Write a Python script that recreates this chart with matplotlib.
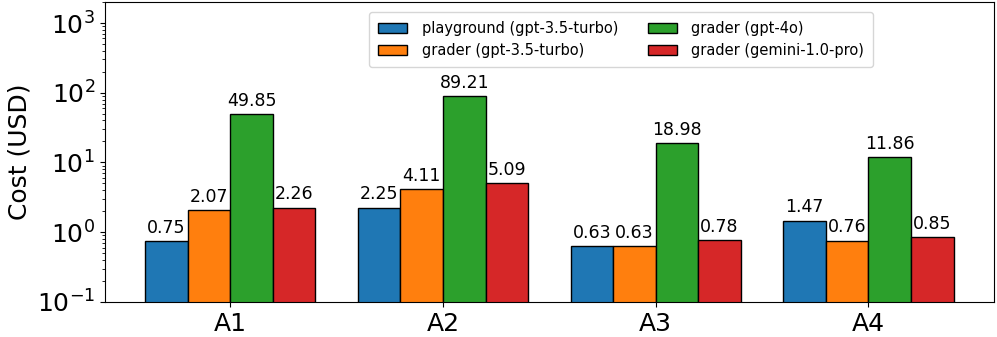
import matplotlib
matplotlib.use("Agg")
import matplotlib.pyplot as plt
import numpy as np

# data
assignments = ['A1', 'A2', 'A3', 'A4']
series_names = ['playground (gpt-3.5-turbo)', 'grader (gpt-3.5-turbo)',
                'grader (gpt-4o)', 'grader (gemini-1.0-pro)']
playground_35 = [0.75, 2.25, 0.63, 1.47]
grader_35 = [2.07, 4.11, 0.63, 0.76]
grader_4o = [49.85, 89.21, 18.98, 11.86]
grader_gemini = [2.26, 5.09, 0.78, 0.85]
all_series = [playground_35, grader_35, grader_4o, grader_gemini]
colors = ['#1f77b4', '#ff7f0e', '#2ca02c', '#d62728']

fig, ax = plt.subplots(figsize=(9.97, 3.37), dpi=100)
fig.subplots_adjust(left=0.105, right=0.997, bottom=0.104, top=0.994)

x = np.arange(len(assignments))
width = 0.2
offsets = [-1.5, -0.5, 0.5, 1.5]
for vals, name, c, off in zip(all_series, series_names, colors, offsets):
    bars = ax.bar(x + off * width, vals, width, label=name, color=c,
                  edgecolor='black', linewidth=1)
    ax.bar_label(bars, fmt='%.2f', padding=3, fontsize=12.5)

ax.set_yscale('log')
ax.set_ylim(0.1, 2000)
ax.set_xticks(x)
ax.set_xticklabels(assignments, fontsize=18)
ax.tick_params(axis='y', labelsize=18)
ax.set_ylabel('Cost (USD)', fontsize=18)
ax.legend(ncol=2, fontsize=10.5, loc='upper right', bbox_to_anchor=(0.872, 0.99),
          handletextpad=1.0, borderpad=0.6)

plt.savefig('out.png', dpi=100)
